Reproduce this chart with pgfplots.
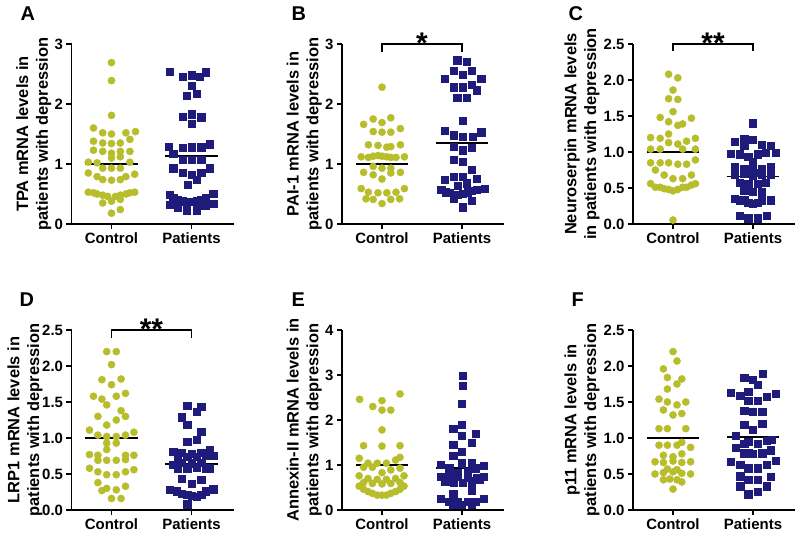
\documentclass[border=0pt]{standalone}
\usepackage{fontspec}
\setmainfont{Liberation Sans}
\usepackage{pgfplots}
\pgfplotsset{compat=1.18}
\definecolor{ctrl}{RGB}{183,189,43}
\definecolor{pat}{RGB}{30,27,122}
\pgfplotsset{
 panel/.style={
  scale only axis, width=162bp, height=180bp,
  xmin=0.5, xmax=2.525, ymin=0,
  axis lines*=left,
  axis line style={line width=1.5bp},
  xtick={1,2}, xticklabels={Control,Patients},
  minor tick num=0,
  tick align=outside, major tick length=5bp,
  every tick/.style={black, line width=1.5bp},
  tick label style={font=\bfseries\fontsize{15}{15}\selectfont},
  /pgf/number format/assume math mode=true,
  ylabel style={font=\bfseries\fontsize{16.5}{20}\selectfont, align=center, inner sep=0pt, anchor=south},
  clip=false,
  enlargelimits=false,
 },
 intlab/.style={ylabel style={at={(axis description cs:-0.123,0.5)}}},
 dec/.style={yticklabel style={/pgf/number format/.cd, fixed, fixed zerofill, precision=1},
             ylabel style={at={(axis description cs:-0.205,0.5)}}},
 ctrlmark/.style={only marks, mark=*, mark size=3.6bp, color=ctrl, mark options={draw=ctrl, fill=ctrl}},
 patmark/.style={only marks, mark=square*, mark size=3.6bp, color=pat, mark options={draw=pat, fill=pat}},
 meanline/.style={black, line width=1.6bp, no marks},
}
\newcommand{\letterfont}{\bfseries\fontsize{20}{20}\selectfont}
\newcommand{\starfont}{\bfseries\fontsize{30}{30}\selectfont}
\begin{document}
\begin{tikzpicture}
\useasboundingbox (0,0) rectangle (796bp,-535bp);
% ---------- A ----------
\node[anchor=base west, font=\letterfont] at (17bp,-20bp) {A};
\begin{axis}[panel, intlab, at={(71.5bp,-224bp)}, anchor=south west, ymax=3, ytick={0,1,2,3},
  ylabel={TPA mRNA levels in\\patients with depression}]
\addplot[ctrlmark] coordinates {
(1,2.69)(1,2.39)(1,1.81)
(0.775,1.60)(0.89,1.52)(1,1.50)(1.18,1.52)(1.30,1.54)
(0.775,1.38)(0.89,1.35)(1,1.34)(1.11,1.35)(1.23,1.41)
(0.775,1.23)(0.89,1.21)(1,1.18)(1.11,1.21)(1.23,1.21)
(0.71,1.03)(0.82,1.02)(1,1.10)(1.11,1.12)(1.23,1.03)
(0.89,0.93)(1,0.93)(1.11,0.93)
(0.71,0.85)(0.82,0.79)(1.29,0.83)(1.18,0.79)
(0.89,0.74)(1,0.73)(1.11,0.74)
(0.71,0.53)(0.775,0.52)(0.82,0.50)(0.89,0.48)(0.95,0.46)(1.05,0.46)(1.11,0.48)(1.18,0.50)(1.23,0.52)(1.29,0.53)
(0.89,0.35)(1,0.38)(1.11,0.41)
(1,0.18)(1.11,0.24)};
\addplot[patmark] coordinates {
(1.73,2.54)(1.89,2.45)(2,2.48)(2.10,2.45)(2.18,2.53)
(2,2.31)(1.94,2.14)(2.06,2.17)
(1.89,1.79)(2,1.83)(2.12,1.78)(2,1.67)
(1.71,1.29)(1.89,1.27)(2,1.28)(2.12,1.28)(2.23,1.33)
(1.77,1.17)(1.89,1.07)(2,1.07)(2.12,1.07)
(1.77,0.93)(2.23,0.93)(1.89,0.85)(2,0.82)(2.12,0.85)
(2.06,0.74)(1.95,0.66)
(1.73,0.49)(1.77,0.43)(1.83,0.41)(1.89,0.38)(1.95,0.37)(2,0.37)(2.06,0.38)(2.12,0.41)(2.18,0.43)(2.27,0.50)
(1.73,0.32)(1.83,0.28)(1.94,0.23)(2.06,0.23)(2.17,0.31)(2.27,0.34)};
\addplot[meanline] coordinates {(0.67,1.0)(1.33,1.0)};
\addplot[meanline] coordinates {(1.67,1.13)(2.33,1.13)};
\end{axis}
% ---------- B ----------
\node[anchor=base west, font=\letterfont] at (288bp,-20bp) {B};
\begin{axis}[panel, intlab, at={(342bp,-224bp)}, anchor=south west, ymax=3, ytick={0,1,2,3},
  ylabel={PAI-1 mRNA levels in\\patients with depression}]
\addplot[ctrlmark] coordinates {
(1,2.28)
(0.77,1.66)(0.89,1.75)(1,1.69)(1.11,1.77)(1.23,1.59)
(0.89,1.54)(1,1.53)(1.11,1.53)
(0.83,1.32)(0.95,1.31)(1.06,1.28)(1.11,1.29)(1.23,1.32)
(0.74,1.12)(0.83,1.11)(0.89,1.13)(0.95,1.14)(1,1.13)(1.06,1.12)(1.11,1.11)(1.175,1.11)(1.28,1.12)
(0.89,0.96)(1,0.93)(1.11,0.93)
(0.77,0.86)(0.89,0.82)(1,0.75)(1.11,0.85)(1.23,0.86)
(0.74,0.59)(1.28,0.59)
(0.83,0.53)(0.95,0.52)(1.06,0.52)(1.175,0.53)
(0.80,0.42)(0.89,0.41)(1,0.34)(1.11,0.41)(1.22,0.42)};
\addplot[patmark] coordinates {
(1.94,2.73)(2.06,2.71)
(1.78,2.42)(1.90,2.56)(2.01,2.49)(2.12,2.56)(2.24,2.42)
(1.90,2.28)(2.01,2.28)(2.12,2.32)(2.18,2.23)
(1.94,2.10)(2.06,2.11)
(2.01,1.72)
(1.78,1.56)(1.90,1.48)(2.01,1.45)(2.13,1.46)(2.24,1.53)
(1.90,1.29)(2.01,1.23)(2.12,1.27)
(1.90,1.07)(2.01,1.04)(2.12,0.91)
(1.78,0.74)(1.90,0.79)(2.01,0.79)(2.18,0.76)
(1.95,0.64)(2.06,0.68)
(1.74,0.57)(1.80,0.53)(1.85,0.52)(1.90,0.49)(1.95,0.49)(2.01,0.51)(2.07,0.53)(2.12,0.56)(2.18,0.57)(2.28,0.59)
(1.90,0.42)(2.12,0.39)(2.01,0.28)};
\addplot[meanline] coordinates {(0.67,1.0)(1.33,1.0)};
\addplot[meanline] coordinates {(1.67,1.35)(2.33,1.35)};
\draw[line width=1.3bp] (axis cs:1,2.87) -- (axis cs:1,3) -- (axis cs:2,3) -- (axis cs:2,2.87);
\node[font=\starfont, anchor=base, yshift=-9bp] at (axis cs:1.5,3) {*};
\end{axis}
% ---------- C ----------
\node[anchor=base west, font=\letterfont] at (565bp,-20bp) {C};
\begin{axis}[panel, dec, at={(633bp,-224bp)}, anchor=south west, ymax=2.5, ytick={0,0.5,1,1.5,2,2.5},
  ylabel={Neuroserpin mRNA levels\\in patients with depression}]
\addplot[ctrlmark] coordinates {
(0.945,2.08)(1.06,2.03)
(1,1.86)
(0.945,1.74)(1.06,1.73)
(1,1.56)
(0.84,1.48)(0.945,1.42)(1.06,1.37)(1.12,1.39)(1.23,1.47)
(0.72,1.20)(0.84,1.19)(0.945,1.25)(1.06,1.11)(1.17,1.15)(1.28,1.19)
(0.72,1.04)(0.84,1.04)(0.945,1.13)(1.12,1.04)(1.28,1.04)
(0.72,0.85)(0.84,0.85)(0.945,0.85)(1.06,0.83)(1.17,0.83)(1.28,0.89)
(0.78,0.75)(0.89,0.68)(1,0.63)(1.12,0.63)(1.23,0.68)
(0.72,0.56)(0.78,0.51)(0.84,0.51)(0.89,0.49)(0.945,0.48)(1,0.46)(1.06,0.48)(1.12,0.51)(1.17,0.51)(1.23,0.54)(1.28,0.56)
(1,0.055)};
\addplot[patmark] coordinates {
(2,1.40)
(1.89,1.19)(2,1.17)
(1.775,1.14)(1.89,1.09)(2.11,1.10)(2.22,1.09)
(1.72,0.98)(1.83,0.97)(1.94,0.93)(2.055,0.97)(2.16,0.99)(2.28,0.99)
(2,0.86)
(1.775,0.79)(1.89,0.77)(2,0.77)(2.11,0.77)(2.22,0.79)
(1.775,0.68)(1.89,0.70)(1.94,0.72)(2,0.67)(2.055,0.71)(2.11,0.69)(2.22,0.68)
(1.83,0.57)(1.94,0.56)(2.055,0.56)(2.16,0.57)
(1.89,0.47)(2,0.45)(2.11,0.45)
(1.775,0.35)(1.83,0.33)(1.89,0.33)(1.94,0.30)(2,0.28)(2.055,0.30)(2.11,0.33)(2.22,0.33)
(1.83,0.11)(1.94,0.08)(2.055,0.08)(2.17,0.12)};
\addplot[meanline] coordinates {(0.67,1.0)(1.33,1.0)};
\addplot[meanline] coordinates {(1.67,0.66)(2.33,0.66)};
\draw[line width=1.3bp] (axis cs:1,2.4) -- (axis cs:1,2.5) -- (axis cs:2,2.5) -- (axis cs:2,2.4);
\node[font=\starfont, anchor=base, yshift=-9bp] at (axis cs:1.5,2.5) {**};
\end{axis}
% ---------- D ----------
\node[anchor=base west, font=\letterfont] at (16bp,-306bp) {D};
\begin{axis}[panel, dec, ylabel style={at={(axis description cs:-0.177,0.5)}}, at={(71.5bp,-510bp)}, anchor=south west, ymax=2.5, ytick={0,0.5,1,1.5,2,2.5},
  ylabel={LRP1 mRNA levels in\\patients with depression}]
\addplot[ctrlmark] coordinates {
(0.94,2.20)(1.06,2.20)
(1,2.02)
(0.88,1.81)(1.12,1.82)
(1,1.74)
(0.775,1.58)(0.88,1.54)(0.94,1.46)(1.06,1.58)(1.175,1.62)
(1.12,1.38)
(0.83,1.30)(0.94,1.18)(1.06,1.25)(1.175,1.30)
(0.725,1.11)(0.83,1.04)(0.94,1.02)(1.06,1.02)(1.175,1.04)(1.28,1.08)
(0.94,0.93)(1.06,0.93)
(0.725,0.77)(0.83,0.76)(0.94,0.84)(1.175,0.76)(1.28,0.76)
(0.83,0.69)(0.94,0.69)(1.06,0.69)(1.175,0.70)
(0.725,0.58)(0.83,0.53)(0.94,0.49)(1.06,0.49)(1.175,0.53)(1.28,0.56)
(0.83,0.38)(0.94,0.30)(1.06,0.28)(1.175,0.33)(0.88,0.27)
(1,0.16)(1.12,0.16)};
\addplot[patmark] coordinates {
(1.945,1.45)(2.12,1.44)(2.06,1.36)(1.88,1.29)(1.945,1.18)(2.12,1.09)
(1.945,0.95)(2.06,0.98)
(1.77,0.81)(1.88,0.80)(2,0.78)(2.12,0.80)(2.225,0.83)(2.27,0.75)
(1.83,0.74)(1.945,0.74)(2.06,0.74)(2.175,0.75)
(1.88,0.66)(2,0.65)(2.12,0.66)
(1.77,0.63)(1.83,0.58)(1.945,0.58)(2.06,0.59)(2.175,0.57)(2.225,0.58)
(1.88,0.44)(2,0.37)(2.12,0.42)
(1.725,0.28)(1.81,0.26)(1.88,0.23)(1.945,0.21)(2,0.20)(2.06,0.19)(2.12,0.21)(2.175,0.26)(2.27,0.29)
(1.945,0.08)};
\addplot[meanline] coordinates {(0.67,1.0)(1.33,1.0)};
\addplot[meanline] coordinates {(1.67,0.64)(2.33,0.64)};
\draw[line width=1.3bp] (axis cs:1,2.39) -- (axis cs:1,2.5) -- (axis cs:2,2.5) -- (axis cs:2,2.39);
\node[font=\starfont, anchor=base, yshift=-9bp] at (axis cs:1.5,2.5) {**};
\end{axis}
% ---------- E ----------
\node[anchor=base west, font=\letterfont] at (288bp,-306bp) {E};
\begin{axis}[panel, intlab, at={(342bp,-510bp)}, anchor=south west, ymax=4, ytick={0,1,2,3,4},
  ylabel={Annexin-II mRNA levels in\\patients with depression}]
\addplot[ctrlmark] coordinates {
(0.72,2.46)(1,2.43)(1.225,2.58)
(0.885,2.30)(1,2.22)(1.11,2.22)
(1,1.78)
(0.77,1.43)(1,1.42)(1.225,1.43)
(0.715,1.15)(1.225,1.17)(0.825,1.04)(0.94,1.04)(1.055,1.04)(1.17,1.11)
(0.77,0.95)(0.88,0.95)(1,0.83)(1.11,0.89)(1.225,0.93)
(0.715,0.76)(0.825,0.70)(0.94,0.68)(1.055,0.68)(1.17,0.70)(1.275,0.76)
(0.77,0.61)(0.88,0.59)(1,0.58)(1.11,0.59)(1.225,0.61)
(0.715,0.53)(1.275,0.53)
(0.77,0.46)(0.825,0.41)(0.88,0.37)(0.94,0.33)(1,0.33)(1.055,0.33)(1.11,0.37)(1.17,0.41)(1.225,0.46)};
\addplot[patmark] coordinates {
(2.01,2.99)(2.01,2.76)(2,2.37)
(1.89,1.81)(2,1.89)
(2,1.65)(2.17,1.70)(1.89,1.46)(2.12,1.50)
(2,1.30)(1.89,1.20)
(2,1.04)(2.12,1.04)(1.73,1.00)(2.27,0.99)(1.84,0.93)(2.17,0.93)
(1.84,0.85)(1.95,0.83)(2.07,0.85)
(1.73,0.74)(1.84,0.70)(1.95,0.74)(2.07,0.72)(2.19,0.72)(2.27,0.74)
(1.79,0.64)(1.90,0.61)(2.01,0.61)(2.12,0.64)(2.225,0.67)
(1.89,0.37)(2.12,0.44)
(1.73,0.26)(1.84,0.19)(1.95,0.19)(2.07,0.19)(2.17,0.19)(2.27,0.26)
(1.89,0.11)(2,0.11)(2.12,0.13)};
\addplot[meanline] coordinates {(0.67,1.0)(1.33,1.0)};
\addplot[meanline] coordinates {(1.67,0.93)(2.33,0.93)};
\end{axis}
% ---------- F ----------
\node[anchor=base west, font=\letterfont] at (568bp,-306bp) {F};
\begin{axis}[panel, dec, at={(633bp,-510bp)}, anchor=south west, ymax=2.5, ytick={0,0.5,1,1.5,2,2.5},
  ylabel={p11 mRNA levels in\\patients with depression}]
\addplot[ctrlmark] coordinates {
(1,2.20)(1.05,2.07)
(0.88,1.96)(0.93,1.84)(1.11,1.82)
(1.05,1.75)(0.93,1.68)
(0.825,1.54)(0.93,1.50)(1.05,1.46)(1.16,1.50)
(0.88,1.39)(1.11,1.34)(1,1.32)
(0.825,1.13)(0.93,1.13)(1.16,1.13)
(0.825,0.90)(0.93,0.90)(1.05,0.90)(1.11,0.94)(1.22,0.87)
(0.88,0.76)(1,0.74)(1.11,0.78)
(0.775,0.67)(0.88,0.66)(1,0.68)(1.11,0.66)(1.22,0.67)
(0.93,0.57)(1.05,0.56)(0.88,0.52)(1,0.53)(1.11,0.51)
(0.775,0.50)(1.22,0.50)
(0.88,0.42)(0.96,0.43)(1.05,0.42)(1.11,0.39)
(1,0.29)};
\addplot[patmark] coordinates {
(2.12,1.89)(1.89,1.84)(2,1.81)(2.06,1.74)
(1.725,1.63)(1.84,1.59)(1.94,1.64)(2.06,1.52)(2.17,1.57)(2.28,1.62)
(1.94,1.52)(1.89,1.38)(2,1.36)(2.115,1.37)
(1.89,1.18)(2,1.12)(2.115,1.20)
(1.78,1.03)(1.89,0.92)(1.94,0.95)(2.06,0.92)(2.17,0.96)(2.23,0.98)
(1.78,0.86)(1.89,0.79)(1.94,0.79)(2,0.78)(2.115,0.79)(2.22,0.83)
(1.725,0.67)(1.84,0.63)(1.94,0.58)(2.06,0.58)(2.17,0.63)(2.28,0.69)
(1.84,0.47)(1.94,0.42)(2.06,0.42)(2.22,0.46)
(1.84,0.33)(2.17,0.33)
(1.94,0.22)(2.06,0.25)};
\addplot[meanline] coordinates {(0.67,1.0)(1.33,1.0)};
\addplot[meanline] coordinates {(1.67,1.01)(2.33,1.01)};
\end{axis}
\end{tikzpicture}
\end{document}
